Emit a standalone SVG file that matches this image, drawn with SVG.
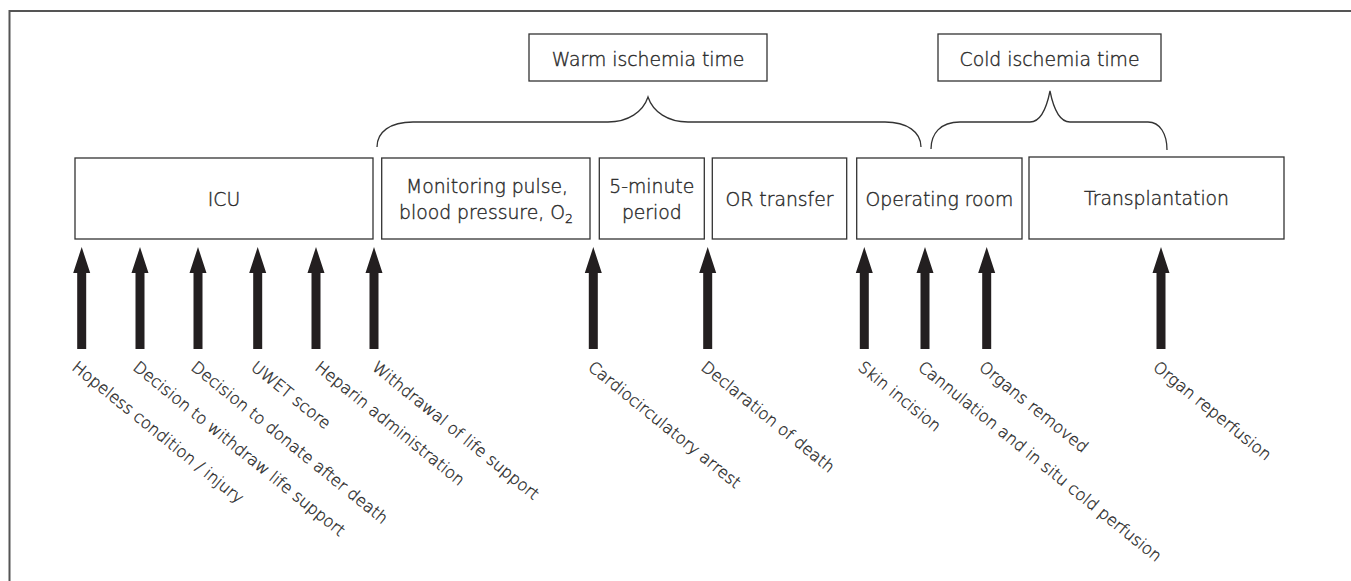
<svg xmlns="http://www.w3.org/2000/svg" xmlns:xlink="http://www.w3.org/1999/xlink" width="1351" height="581" viewBox="0 0 1351 581">
<style>
.box{fill:#fff;stroke:#333;stroke-width:1.3}
.t{font-family:"DejaVu Sans","Liberation Sans",sans-serif;font-weight:200;font-size:18.8px;fill:#2b2b2b;stroke:#2b2b2b;stroke-width:0.4;text-anchor:middle}
.l{font-family:"DejaVu Sans","Liberation Sans",sans-serif;font-weight:200;font-size:16.2px;fill:#2b2b2b;stroke:#2b2b2b;stroke-width:0.35}
.brace{fill:none;stroke:#333;stroke-width:1.3}
.frame{fill:none;stroke:#555;stroke-width:2}
.arr{fill:#231f20}
</style>
<defs>
<path id="arr" d="M0,247 L8.5,273 L4.5,273 L4.5,349 L-4.5,349 L-4.5,273 L-8.5,273 Z"/>
</defs>
<rect width="1351" height="581" fill="#fff"/>
<path class="frame" d="M9.5,581 L9.5,11 L1351,11"/>

<g id="warm">
<rect class="box" x="529" y="34" width="238" height="47"/>
<text class="t" x="648" y="65.5">Warm ischemia time</text>
</g>
<g id="cold">
<rect class="box" x="938" y="34" width="223" height="47"/>
<text class="t" x="1049.5" y="65.5">Cold ischemia time</text>
</g>
<g id="icu">
<rect class="box" x="75" y="158" width="298" height="81"/>
<text class="t" x="224" y="205.5">ICU</text>
</g>
<g id="monitoring">
<rect class="box" x="381.7" y="158" width="208.3" height="81"/>
<text class="t" x="487" y="193.3">Monitoring pulse,</text>
<text class="t" x="486" y="219.3">blood pressure, O<tspan font-size="12.5" dy="4">2</tspan></text>
</g>
<g id="five-minute">
<rect class="box" x="599.3" y="158" width="105" height="81"/>
<text class="t" x="651.8" y="193.3">5-minute</text>
<text class="t" x="651.8" y="219.3">period</text>
</g>
<g id="or-transfer">
<rect class="box" x="712.3" y="158" width="134.4" height="81"/>
<text class="t" x="779.5" y="205.5">OR transfer</text>
</g>
<g id="operating-room">
<rect class="box" x="856.7" y="158" width="165.3" height="81"/>
<text class="t" x="939.4" y="205.5">Operating room</text>
</g>
<g id="transplantation">
<rect class="box" x="1029" y="157" width="255" height="82"/>
<text class="t" x="1156.5" y="205">Transplantation</text>
</g>

<g id="braces">
<path class="brace" d="M377,147 C377,132 390,122 413,122 L608,122 C628,122 643,112 648,97 C653,112 668,122 688,122 L885,122 C907,122 921,132 921,147"/>
<path class="brace" d="M931,149 C931,134 940,122 960,122 L1030,122 C1042,122 1047,106 1050,91 C1053,106 1058,122 1070,122 L1148,122 C1160,122 1167,134 1167,150"/>
</g>

<g id="connectors">
<use class="arr" xlink:href="#arr" x="81.7"/>
<use class="arr" xlink:href="#arr" x="140"/>
<use class="arr" xlink:href="#arr" x="198"/>
<use class="arr" xlink:href="#arr" x="257.7"/>
<use class="arr" xlink:href="#arr" x="316"/>
<use class="arr" xlink:href="#arr" x="374"/>
<use class="arr" xlink:href="#arr" x="593.3"/>
<use class="arr" xlink:href="#arr" x="707.7"/>
<use class="arr" xlink:href="#arr" x="864.3"/>
<use class="arr" xlink:href="#arr" x="925"/>
<use class="arr" xlink:href="#arr" x="986.7"/>
<use class="arr" xlink:href="#arr" x="1161"/>
</g>

<g id="labels">
<text class="l" transform="translate(71,369) rotate(39)">Hopeless condition / injury</text>
<text class="l" transform="translate(132,369) rotate(39)">Decision to withdraw life support</text>
<text class="l" transform="translate(190,369) rotate(39)">Decision to donate after death</text>
<text class="l" transform="translate(250,369) rotate(39)">UWET score</text>
<text class="l" transform="translate(314,369) rotate(39)">Heparin administration</text>
<text class="l" transform="translate(371,369) rotate(39)">Withdrawal of life support</text>
<text class="l" transform="translate(587,369) rotate(39)">Cardiocirculatory arrest</text>
<text class="l" transform="translate(700,369) rotate(39)">Declaration of death</text>
<text class="l" transform="translate(857,369) rotate(39)">Skin incision</text>
<text class="l" transform="translate(917,369) rotate(39)">Cannulation and in situ cold perfusion</text>
<text class="l" transform="translate(978,369) rotate(39)">Organs removed</text>
<text class="l" transform="translate(1152,369) rotate(39)">Organ reperfusion</text>
</g>
</svg>
